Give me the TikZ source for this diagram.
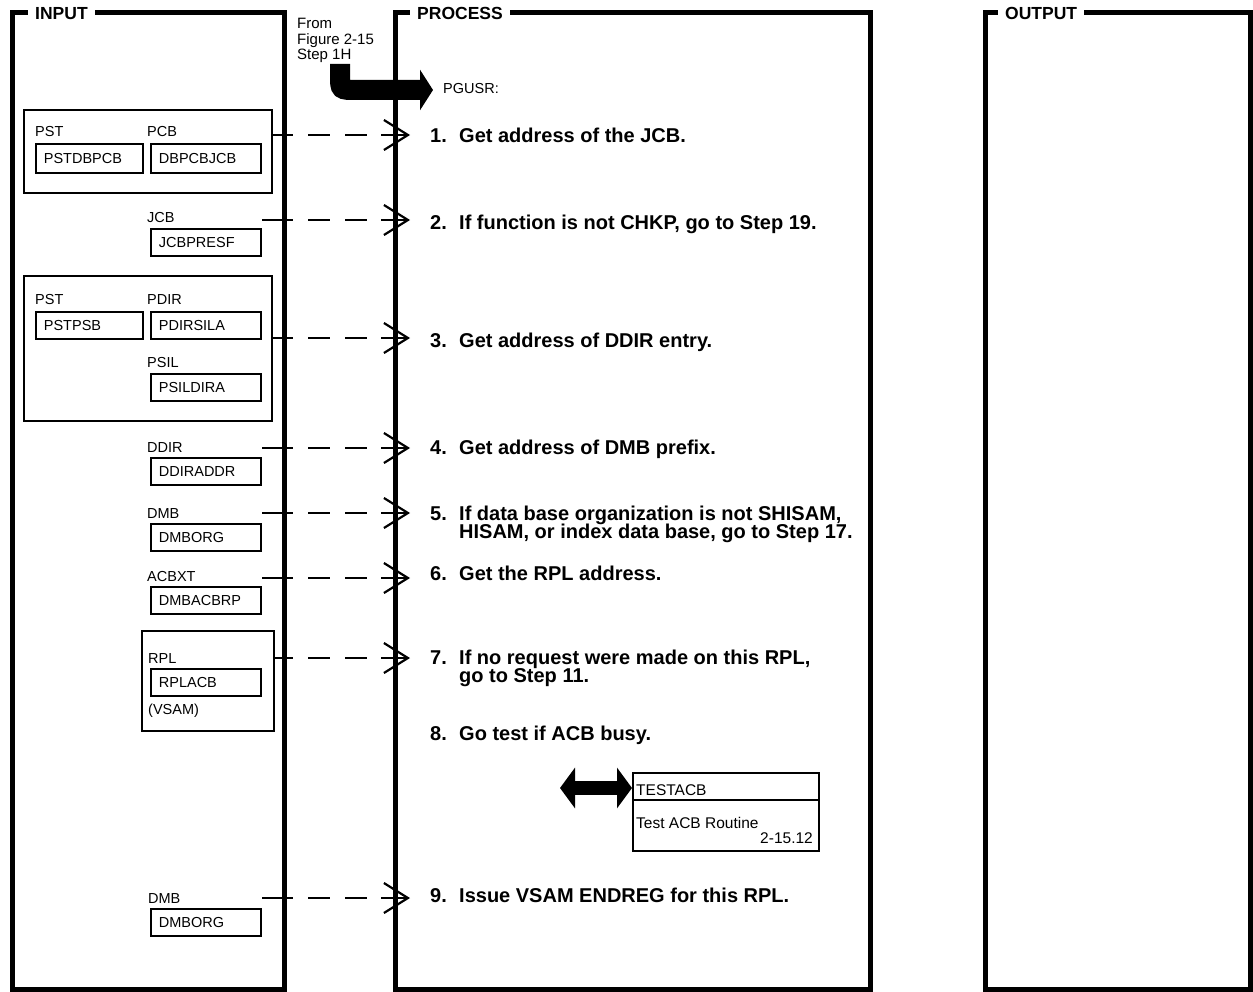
\documentclass[tikz,border=0pt]{standalone}
\usepackage{fontspec}
\setmainfont{Liberation Sans}
\usetikzlibrary{arrows.meta}
% step number in a fixed-width slot, with a strut fixing the first line's height
\newcommand\stepnum[1]{\rule{0pt}{15pt}\makebox[29pt][l]{#1}}
\begin{document}
\lineskiplimit=-100pt\relax
\begin{tikzpicture}[x=1pt,y=-1pt,
  panel/.style={line width=5pt, line join=miter},
  paneltitle/.style={font=\fontsize{17.5}{20}\selectfont\bfseries, fill=white, inner xsep=7pt, inner ysep=4pt, anchor=west},
  lbl/.style={font=\fontsize{14.5}{16}\selectfont, inner sep=0pt, anchor=base west},
  field/.style={draw, line width=1.8pt, font=\fontsize{14.5}{16}\selectfont, inner xsep=8pt, inner ysep=0pt, text width=#1, align=left, anchor=north west, minimum height=27pt},
  group/.style={draw, line width=1.6pt, anchor=north west, inner sep=0pt},
  steptext/.style={font=\fontsize{20}{18.5}\selectfont\bfseries, inner sep=0pt, anchor=north west, align=left},
  flow/.style={line width=2.2pt, -{Straight Barb[length=24pt,width=30pt]}, dash pattern=on #1 off 15pt on 22pt off 15pt on 22pt off 14pt on 80pt, shorten >=20pt},
  fat/.style={line width=20pt, -{Triangle[length=13pt,width=40pt]}},
  fatboth/.style={line width=14pt, {Triangle[length=15pt,width=40pt]}-{Triangle[length=15pt,width=40pt]}},
]
\useasboundingbox (0,0) rectangle (1253,992);
\fill[white] (0,0) rectangle (1253,992);

% three column frames
\draw[panel] (12.5,13) rectangle (284.5,989);
\draw[panel] (395,13) rectangle (870,989);
\draw[panel] (985.5,13) rectangle (1250,989);
\node[paneltitle] (tin) at (28,13.5) {INPUT};
\node[paneltitle] (tproc) at (410,13.5) {PROCESS};
\node[paneltitle] (tout) at (998,13.5) {OUTPUT};

% entry from the previous figure
\node[font=\fontsize{15}{15.5}\selectfont, inner sep=0pt, anchor=north west, align=left] (from) at (297,18) {From\\Figure 2-15\\Step 1H};
\node[lbl] (pgusr) at (443,94) {PGUSR:};
\coordinate (entry) at (340,64);
\draw[fat, shorten >=10pt] (entry) -- (340,76) .. controls (340,90) .. (356,90) -- (pgusr.west |- 0,90);

% input data areas
\node[group, minimum width=248pt, minimum height=83pt] (g1) at (23,109) {};
\node[lbl] (lpst1) at (35,137) {PST};
\node[lbl] (lpcb) at (147,137) {PCB};
\node[field=91pt, minimum height=29pt] (fpst1) at (35,143) {PSTDBPCB};
\node[field=94pt, minimum height=29pt] (fpcb) at (150,143) {DBPCBJCB};

\node[lbl] (ljcb) at (147,223) {JCB};
\node[field=94pt] (fjcb) at (150,228) {JCBPRESF};

\node[group, minimum width=248pt, minimum height=145pt] (g2) at (23,275) {};
\node[lbl] (lpst2) at (35,305) {PST};
\node[lbl] (lpdir) at (147,305) {PDIR};
\node[field=91pt] (fpst2) at (35,311) {PSTPSB};
\node[field=94pt] (fpdir) at (150,311) {PDIRSILA};
\node[lbl] (lpsil) at (147,367) {PSIL};
\node[field=94pt] (fpsil) at (150,373) {PSILDIRA};

\node[lbl] (lddir) at (147,452) {DDIR};
\node[field=94pt] (fddir) at (150,457) {DDIRADDR};
\node[lbl] (ldmb1) at (147,518) {DMB};
\node[field=94pt] (fdmb1) at (150,523) {DMBORG};
\node[lbl] (lacbxt) at (147,581) {ACBXT};
\node[field=94pt] (facbxt) at (150,586) {DMBACBRP};

\node[group, minimum width=132pt, minimum height=100pt] (g3) at (141,630) {};
\node[lbl] (lrpl) at (148,663) {RPL};
\node[field=94pt] (frpl) at (150,668) {RPLACB};
\node[lbl] (lvsam) at (148,714) {(VSAM)};

\node[lbl] (ldmb2) at (148,903) {DMB};
\node[field=94pt] (fdmb2) at (150,908) {DMBORG};

% process steps
\node[steptext] (n1) at (430,127) {\stepnum{1.}Get address of the JCB.};
\node[steptext] (n2) at (430,214) {\stepnum{2.}If function is not CHKP, go to Step 19.};
\node[steptext] (n3) at (430,332) {\stepnum{3.}Get address of DDIR entry.};
\node[steptext] (n4) at (430,439) {\stepnum{4.}Get address of DMB prefix.};
\node[steptext] (n5) at (430,505) {\stepnum{5.}If data base organization is not SHISAM,\\\hspace*{29pt}HISAM, or index data base, go to Step 17.};
\node[steptext] (n6) at (430,565) {\stepnum{6.}Get the RPL address.};
\node[steptext] (n7) at (430,649) {\stepnum{7.}If no request were made on this RPL,\\\hspace*{29pt}go to Step 11.};
\node[steptext] (n8) at (430,725) {\stepnum{8.}Go test if ACB busy.};
\node[steptext] (n9) at (430,887) {\stepnum{9.}Issue VSAM ENDREG for this RPL.};

% called routine
\node[draw, line width=1.5pt, minimum width=186pt, minimum height=78pt, anchor=north west, inner sep=0pt] (tbox) at (632,772) {};
\draw[line width=1.2pt] (tbox.west |- 0,800) -- (tbox.east |- 0,800);
\node[lbl, font=\fontsize{15.5}{17}\selectfont] (tname) at (636,795) {TESTACB};
\node[lbl, font=\fontsize{15.5}{17}\selectfont] (tdesc) at (636,828) {Test ACB Routine};
\node[lbl, font=\fontsize{15.5}{17}\selectfont, anchor=base east] (tref) at (813,843) {2-15.12};
\coordinate (dl) at (560,788);
\draw[fatboth] (dl) -- (dl -| tbox.west);

% data flow from inputs to steps
\coordinate (a1) at (271,135);
\coordinate (a2) at (262,220);
\coordinate (a3) at (271,338);
\coordinate (a4) at (262,448);
\coordinate (a5) at (262,513);
\coordinate (a6) at (262,578);
\coordinate (a7) at (273,658);
\coordinate (a9) at (262,898);
\draw[flow=22pt] (a1) -- (a1 -| n1.west);
\draw[flow=31pt] (a2) -- (a2 -| n2.west);
\draw[flow=22pt] (a3) -- (a3 -| n3.west);
\draw[flow=31pt] (a4) -- (a4 -| n4.west);
\draw[flow=31pt] (a5) -- (a5 -| n5.west);
\draw[flow=31pt] (a6) -- (a6 -| n6.west);
\draw[flow=20pt] (a7) -- (a7 -| n7.west);
\draw[flow=31pt] (a9) -- (a9 -| n9.west);
\end{tikzpicture}
\end{document}
